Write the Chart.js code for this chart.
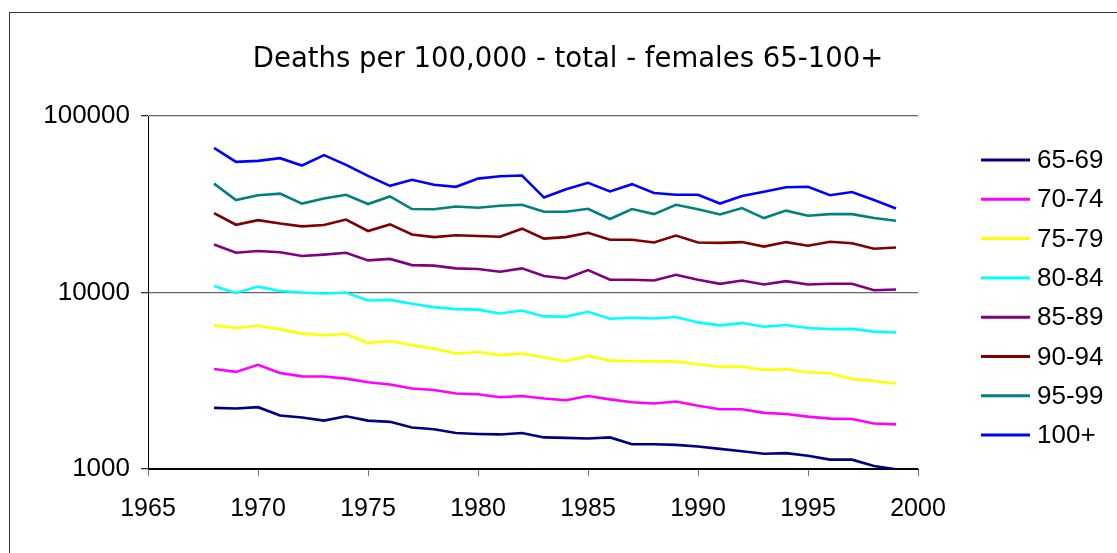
<!DOCTYPE html>
<html>
<head>
<meta charset="utf-8">
<script src="https://cdn.jsdelivr.net/npm/chart.js@4"></script>
<style>
  html, body { margin: 0; padding: 0; background: #fff; overflow: hidden; }
  #frame { position: absolute; left: 9px; top: 12px; width: 1200px; height: 600px; border: 1px solid #333; }
  #deathsChart { position: absolute; left: 0; top: 0; }
</style>
</head>
<body>
<div id="frame"></div>
<canvas id="deathsChart" width="1136" height="553"></canvas>
<script>
const years = [];
for (let y = 1968; y <= 1999; y++) years.push(y);

const ageGroups = ["65-69", "70-74", "75-79", "80-84", "85-89", "90-94", "95-99", "100+"];
const colors = ["#000080", "#ff00ff", "#ffff00", "#00ffff", "#800080", "#800000", "#008080", "#0000ff"];

const f65 = [2220, 2200, 2240, 2010, 1960, 1880, 1990, 1880, 1850, 1720, 1680, 1600, 1580, 1570, 1600, 1510, 1500, 1490, 1510, 1380, 1380, 1370, 1340, 1300, 1260, 1220, 1230, 1190, 1130, 1130, 1040, 995];
const f70 = [3690, 3550, 3890, 3500, 3350, 3340, 3250, 3100, 3010, 2860, 2800, 2680, 2650, 2550, 2590, 2510, 2450, 2590, 2480, 2390, 2350, 2410, 2280, 2180, 2180, 2080, 2050, 1980, 1930, 1920, 1810, 1790];
const f75 = [6510, 6290, 6480, 6180, 5850, 5720, 5820, 5170, 5310, 5020, 4810, 4510, 4600, 4420, 4510, 4280, 4080, 4370, 4110, 4080, 4070, 4060, 3920, 3800, 3800, 3640, 3670, 3530, 3490, 3240, 3150, 3050];
const f80 = [10900, 9950, 10800, 10200, 10000, 9870, 10000, 9010, 9080, 8640, 8260, 8050, 8000, 7610, 7910, 7320, 7300, 7780, 7100, 7190, 7130, 7270, 6770, 6510, 6710, 6400, 6540, 6290, 6200, 6220, 6000, 5940];
const f85 = [18700, 16800, 17200, 16900, 16100, 16400, 16800, 15200, 15500, 14300, 14200, 13700, 13600, 13100, 13700, 12400, 12000, 13400, 11800, 11800, 11700, 12600, 11800, 11200, 11700, 11100, 11600, 11100, 11200, 11200, 10300, 10400];
const f90 = [28200, 24200, 25700, 24600, 23700, 24100, 25900, 22300, 24300, 21300, 20600, 21100, 20900, 20700, 23000, 20200, 20600, 21800, 19900, 19900, 19200, 21000, 19200, 19100, 19300, 18200, 19300, 18400, 19400, 19000, 17700, 18000];
const f95 = [41400, 33400, 35600, 36300, 31900, 34100, 35800, 31700, 35000, 29700, 29600, 30700, 30200, 31000, 31400, 28700, 28700, 29800, 26100, 29700, 27800, 31400, 29600, 27700, 30100, 26400, 29100, 27200, 27800, 27800, 26400, 25500];
const f100 = [65900, 55000, 55700, 57700, 52400, 60000, 52900, 45800, 40200, 43500, 40800, 39700, 44200, 45600, 46000, 34500, 38500, 41800, 37400, 41100, 36600, 35800, 35800, 31900, 35200, 37200, 39500, 39700, 35600, 37100, 33400, 29900];

const series = [f65, f70, f75, f80, f85, f90, f95, f100];
const yTicks = [1000, 10000, 100000];

// legend drawn by hand in the space kept free on the right
const sideLegend = {
  id: "sideLegend",
  afterDraw(chart) {
    const ctx = chart.ctx;
    ctx.save();
    ctx.font = "26px 'Liberation Sans', Arial, sans-serif";
    ctx.textBaseline = "middle";
    ctx.fillStyle = "#000";
    chart.data.datasets.forEach((ds, i) => {
      const y = 160 + i * 39.3;
      ctx.strokeStyle = ds.borderColor;
      ctx.lineWidth = 3;
      ctx.beginPath();
      ctx.moveTo(981, y);
      ctx.lineTo(1030, y);
      ctx.stroke();
      ctx.fillText(ds.label, 1037, y + 1);
    });
    ctx.restore();
  }
};

const canvas = document.getElementById("deathsChart");
new Chart(canvas.getContext("2d"), {
  type: "line",
  data: {
    datasets: series.map((vals, i) => ({
      label: ageGroups[i],
      data: vals.map((v, j) => ({ x: years[j], y: v })),
      borderColor: colors[i],
      backgroundColor: colors[i],
      borderWidth: 2.6,
      pointRadius: 0,
      tension: 0,
      fill: false
    }))
  },
  options: {
    responsive: false,
    animation: false,
    layout: { padding: 0 },
    plugins: {
      legend: { display: false },
      tooltip: { enabled: false },
      title: {
        display: true,
        text: "Deaths per 100,000 - total - females 65-100+",
        color: "#000",
        font: { family: "'DejaVu Sans', Verdana, sans-serif", size: 27.5, weight: "normal" },
        padding: { top: 43, bottom: 40 }
      }
    },
    scales: {
      x: {
        type: "linear",
        min: 1965,
        max: 2000,
        ticks: {
          stepSize: 5,
          color: "#000",
          padding: 18,
          font: { family: "'Liberation Sans', Arial, sans-serif", size: 25 },
          callback: v => String(v)
        },
        grid: { drawOnChartArea: false, tickLength: 7, tickColor: "#777" },
        border: { color: "#000", width: 1 },
        afterFit: s => { s.height = 84; }
      },
      y: {
        type: "logarithmic",
        min: 1000,
        max: 100000,
        afterBuildTicks: s => { s.ticks = yTicks.map(v => ({ value: v })); },
        ticks: {
          color: "#000",
          padding: 11,
          font: { family: "'Liberation Sans', Arial, sans-serif", size: 26 },
          callback: v => String(v)
        },
        grid: {
          tickLength: 7,
          color: c => (c.tick && c.tick.value === 1000 ? "#000" : "#666"),
          tickColor: "#333",
          lineWidth: 1.3
        },
        border: { color: "#000", width: 1 },
        afterFit: s => { s.width = 148; }
      },
      spare: {
        type: "linear",
        position: "right",
        ticks: { display: false },
        grid: { display: false },
        border: { display: false },
        afterFit: s => { s.width = 218; }
      }
    }
  },
  plugins: [sideLegend]
});
</script>
</body>
</html>
